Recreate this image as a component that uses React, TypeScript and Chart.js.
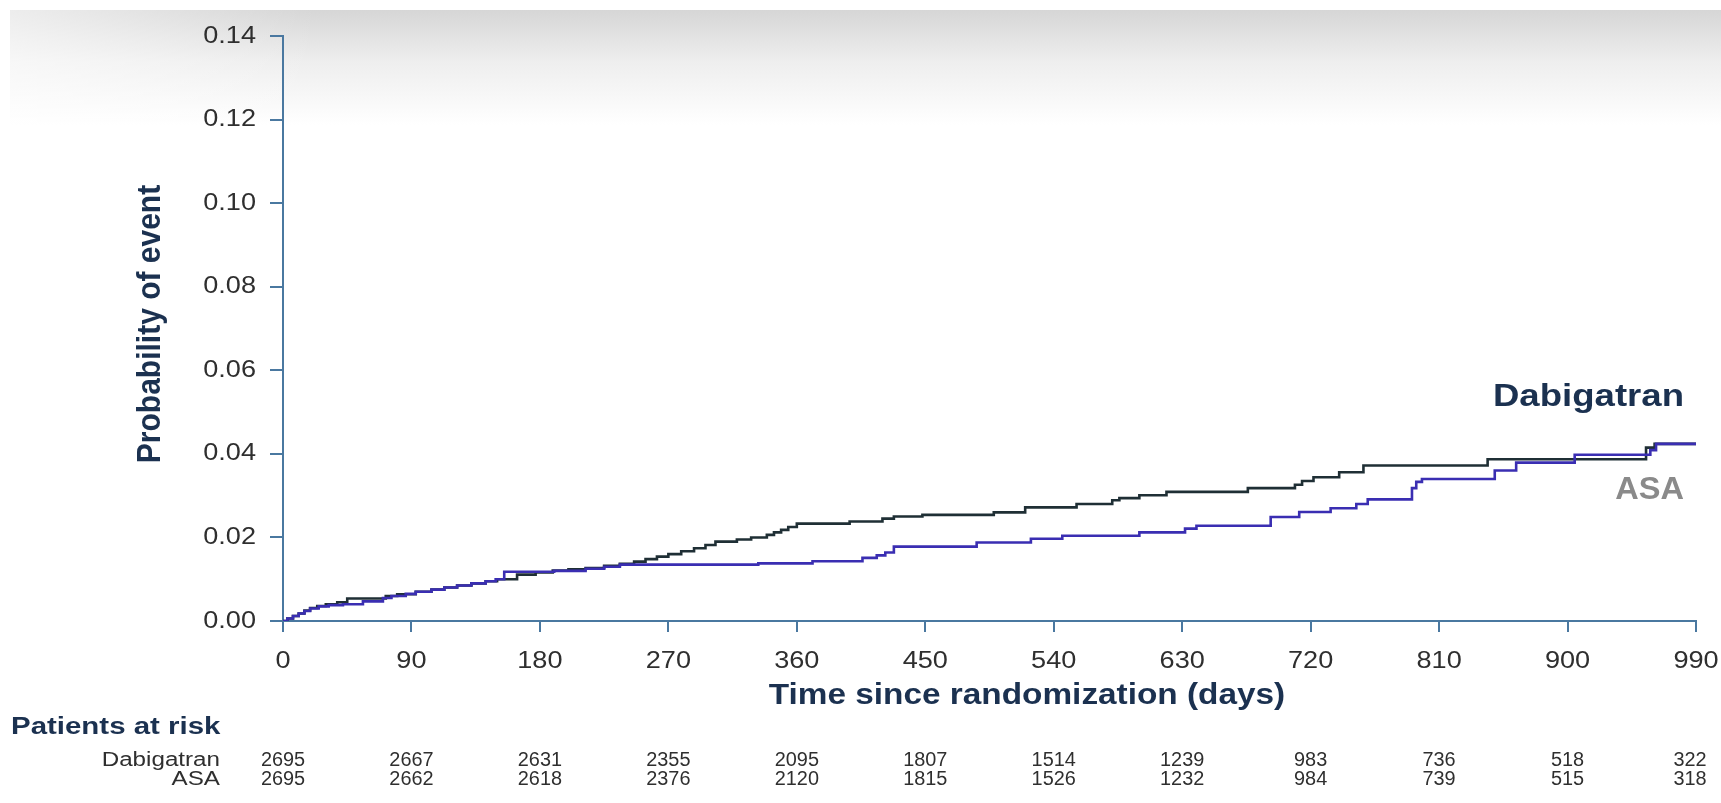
import React, { useEffect, useRef } from "react";
import { Chart, registerables } from "chart.js";

Chart.register(...registerables);

// ---- data ----
const xTickValues = [0, 90, 180, 270, 360, 450, 540, 630, 720, 810, 900, 990];
const yTickValues = [0, 0.02, 0.04, 0.06, 0.08, 0.1, 0.12, 0.14];

const dabigatranDays = [0, 3, 7, 11, 15, 19, 24, 30, 38, 45, 72, 80, 93, 104, 113, 122, 132, 142, 150, 164, 177, 189, 200, 212, 225, 236, 246, 254, 262, 270, 279, 288, 296, 303, 318, 328, 339, 344, 349, 354, 360, 397, 420, 428, 448, 498, 520, 556, 581, 586, 600, 619, 676, 709, 714, 722, 740, 757, 844, 955, 961, 990];
const dabigatranProb = [0, 0.0006, 0.0012, 0.0018, 0.0025, 0.0031, 0.0036, 0.004, 0.0045, 0.0054, 0.006, 0.0064, 0.007, 0.0075, 0.008, 0.0085, 0.009, 0.0095, 0.01, 0.0111, 0.0116, 0.0121, 0.0124, 0.0127, 0.0132, 0.0137, 0.0142, 0.0148, 0.0154, 0.016, 0.0167, 0.0174, 0.0182, 0.019, 0.0195, 0.02, 0.0206, 0.0212, 0.0218, 0.0225, 0.0233, 0.0238, 0.0245, 0.025, 0.0254, 0.026, 0.0272, 0.028, 0.0289, 0.0294, 0.0301, 0.0309, 0.0318, 0.0326, 0.0335, 0.0344, 0.0356, 0.0372, 0.0387, 0.0415, 0.0424, 0.0424];

const asaDays = [0, 3, 7, 11, 15, 19, 25, 32, 42, 56, 70, 76, 86, 93, 104, 113, 122, 132, 142, 149, 155, 190, 212, 225, 236, 333, 371, 406, 416, 422, 428, 486, 524, 546, 600, 632, 640, 692, 712, 734, 752, 760, 791, 794, 798, 849, 864, 905, 958, 962, 990];
const asaProb = [0, 0.0006, 0.0012, 0.0018, 0.0024, 0.003, 0.0035, 0.0038, 0.004, 0.0047, 0.0055, 0.006, 0.0065, 0.007, 0.0075, 0.008, 0.0085, 0.009, 0.0095, 0.01, 0.0118, 0.012, 0.0125, 0.013, 0.0135, 0.0138, 0.0143, 0.0151, 0.0157, 0.0164, 0.0178, 0.0188, 0.0197, 0.0204, 0.0212, 0.0221, 0.0228, 0.0249, 0.0261, 0.027, 0.028, 0.0291, 0.0318, 0.0333, 0.034, 0.036, 0.0379, 0.0398, 0.0409, 0.0424, 0.0424];

const riskDabigatran = [2695, 2667, 2631, 2355, 2095, 1807, 1514, 1239, 983, 736, 518, 322];
const riskASA = [2695, 2662, 2618, 2376, 2120, 1815, 1526, 1232, 984, 739, 515, 318];

// ---- styles ----
const W = 1721;
const H = 803;
const AXIS = "#4a78a0";
const NAVY = "#1b3150";
const TICK_TEXT = "#2f2f2f";
const DABI_COLOR = "#1f2f35";
const ASA_COLOR = "#3a2eb2";
const FONT = '"Liberation Sans", Arial, Helvetica, sans-serif';
const SX = 1.15;

type TOpts = {
  size: number;
  bold?: boolean;
  color: string;
  align?: CanvasTextAlign;
  sx?: number;
  rotate?: boolean;
};

function drawText(ctx: CanvasRenderingContext2D, s: string, x: number, y: number, o: TOpts) {
  ctx.save();
  ctx.translate(x, y);
  const sx = o.sx ?? SX;
  if (o.rotate) {
    ctx.rotate(-Math.PI / 2);
    ctx.scale(1, sx);
  } else {
    ctx.scale(sx, 1);
  }
  ctx.font = `${o.bold ? "bold " : ""}${o.size}px ${FONT}`;
  ctx.fillStyle = o.color;
  ctx.textAlign = o.align ?? "left";
  ctx.textBaseline = "middle";
  ctx.fillText(s, 0, 0);
  ctx.restore();
}

const textPlugin = {
  id: "kmText",
  afterDraw(chart: any) {
    const ctx: CanvasRenderingContext2D = chart.ctx;
    const xs = chart.scales.x;
    const ys = chart.scales.y;
    const area = chart.chartArea;

    // y tick labels
    yTickValues.forEach((v) => {
      drawText(ctx, v.toFixed(2), area.left - 27, ys.getPixelForValue(v), {
        size: 24, color: TICK_TEXT, align: "right", sx: 1.13,
      });
    });
    // x tick labels
    xTickValues.forEach((v) => {
      drawText(ctx, String(v), xs.getPixelForValue(v), 661, {
        size: 24, color: TICK_TEXT, align: "center", sx: 1.13,
      });
    });

    // axis titles
    drawText(ctx, "Probability of event", 151, 324, {
      size: 30, bold: true, color: NAVY, align: "center", rotate: true, sx: 1.12,
    });
    drawText(ctx, "Time since randomization (days)", 1027, 696, {
      size: 29, bold: true, color: NAVY, align: "center", sx: 1.15,
    });

    // series labels
    drawText(ctx, "Dabigatran", 1684, 397, {
      size: 31, bold: true, color: NAVY, align: "right", sx: 1.18,
    });
    drawText(ctx, "ASA", 1684, 490, {
      size: 31, bold: true, color: "#8a8a8a", align: "right", sx: 1.05,
    });

    // patients at risk table
    drawText(ctx, "Patients at risk", 11, 728, {
      size: 23, bold: true, color: NAVY, align: "left", sx: 1.28,
    });
    drawText(ctx, "Dabigatran", 220, 761, { size: 19.5, color: TICK_TEXT, align: "right", sx: 1.24 });
    drawText(ctx, "ASA", 220, 780, { size: 19.5, color: TICK_TEXT, align: "right", sx: 1.24 });
    const last = xTickValues.length - 1;
    xTickValues.forEach((v, i) => {
      const px = xs.getPixelForValue(v) - (i === last ? 6 : 0);
      drawText(ctx, String(riskDabigatran[i]), px, 761, { size: 19.5, color: TICK_TEXT, align: "center", sx: 1.02 });
      drawText(ctx, String(riskASA[i]), px, 780, { size: 19.5, color: TICK_TEXT, align: "center", sx: 1.02 });
    });
  },
};

export default function App() {
  const ref = useRef<HTMLCanvasElement | null>(null);

  useEffect(() => {
    if (!ref.current) return;
    const asaData = asaDays.map((d, i) => ({ x: d, y: asaProb[i] }));
    const dabiData = dabigatranDays.map((d, i) => ({ x: d, y: dabigatranProb[i] }));

    const chart = new Chart(ref.current, {
      type: "line",
      data: {
        datasets: [
          {
            label: "ASA",
            data: asaData,
            borderColor: ASA_COLOR,
            borderWidth: 2.6,
            stepped: "before",
            pointRadius: 0,
            fill: false,
          },
          {
            label: "Dabigatran",
            data: dabiData,
            borderColor: DABI_COLOR,
            borderWidth: 2.6,
            stepped: "before",
            pointRadius: 0,
            fill: false,
          },
        ],
      },
      options: {
        animation: false,
        responsive: false,
        maintainAspectRatio: false,
        layout: { padding: { left: 0, right: 25, top: 36, bottom: 0 } },
        plugins: {
          legend: { display: false },
          tooltip: { enabled: false },
          title: { display: false },
        },
        scales: {
          x: {
            type: "linear",
            min: 0,
            max: 990,
            afterBuildTicks: (s: any) => {
              s.ticks = xTickValues.map((v) => ({ value: v }));
            },
            ticks: { display: false },
            grid: {
              display: true,
              drawOnChartArea: false,
              drawTicks: true,
              tickLength: 11,
              color: AXIS,
              lineWidth: 2,
            },
            border: { display: true, color: AXIS, width: 2 },
            afterFit: (s: any) => {
              s.height = 182;
            },
          },
          y: {
            type: "linear",
            min: 0,
            max: 0.14,
            afterBuildTicks: (s: any) => {
              s.ticks = yTickValues.map((v) => ({ value: v }));
            },
            ticks: { display: false },
            grid: {
              display: true,
              drawOnChartArea: false,
              drawTicks: true,
              tickLength: 13,
              color: AXIS,
              lineWidth: 2,
            },
            border: { display: true, color: AXIS, width: 2 },
            afterFit: (s: any) => {
              s.width = 283;
            },
          },
        },
      },
      plugins: [textPlugin],
    });
    return () => chart.destroy();
  }, []);

  return (
    <div
      style={{
        position: "fixed",
        left: 0,
        top: 0,
        width: W,
        height: H,
        background: "#ffffff",
        overflow: "hidden",
      }}
    >
      <div
        style={{
          position: "absolute",
          left: 10,
          top: 10,
          right: 0,
          height: 115,
          background:
            "linear-gradient(to right, rgba(255,255,255,0.55), rgba(255,255,255,0) 18%), linear-gradient(to bottom, #d6d6d6 0%, #eeeeee 45%, #ffffff 100%)",
        }}
      />
      <canvas
        ref={ref}
        width={W}
        height={H}
        style={{ position: "absolute", left: 0, top: 0, width: W, height: H }}
      />
    </div>
  );
}
